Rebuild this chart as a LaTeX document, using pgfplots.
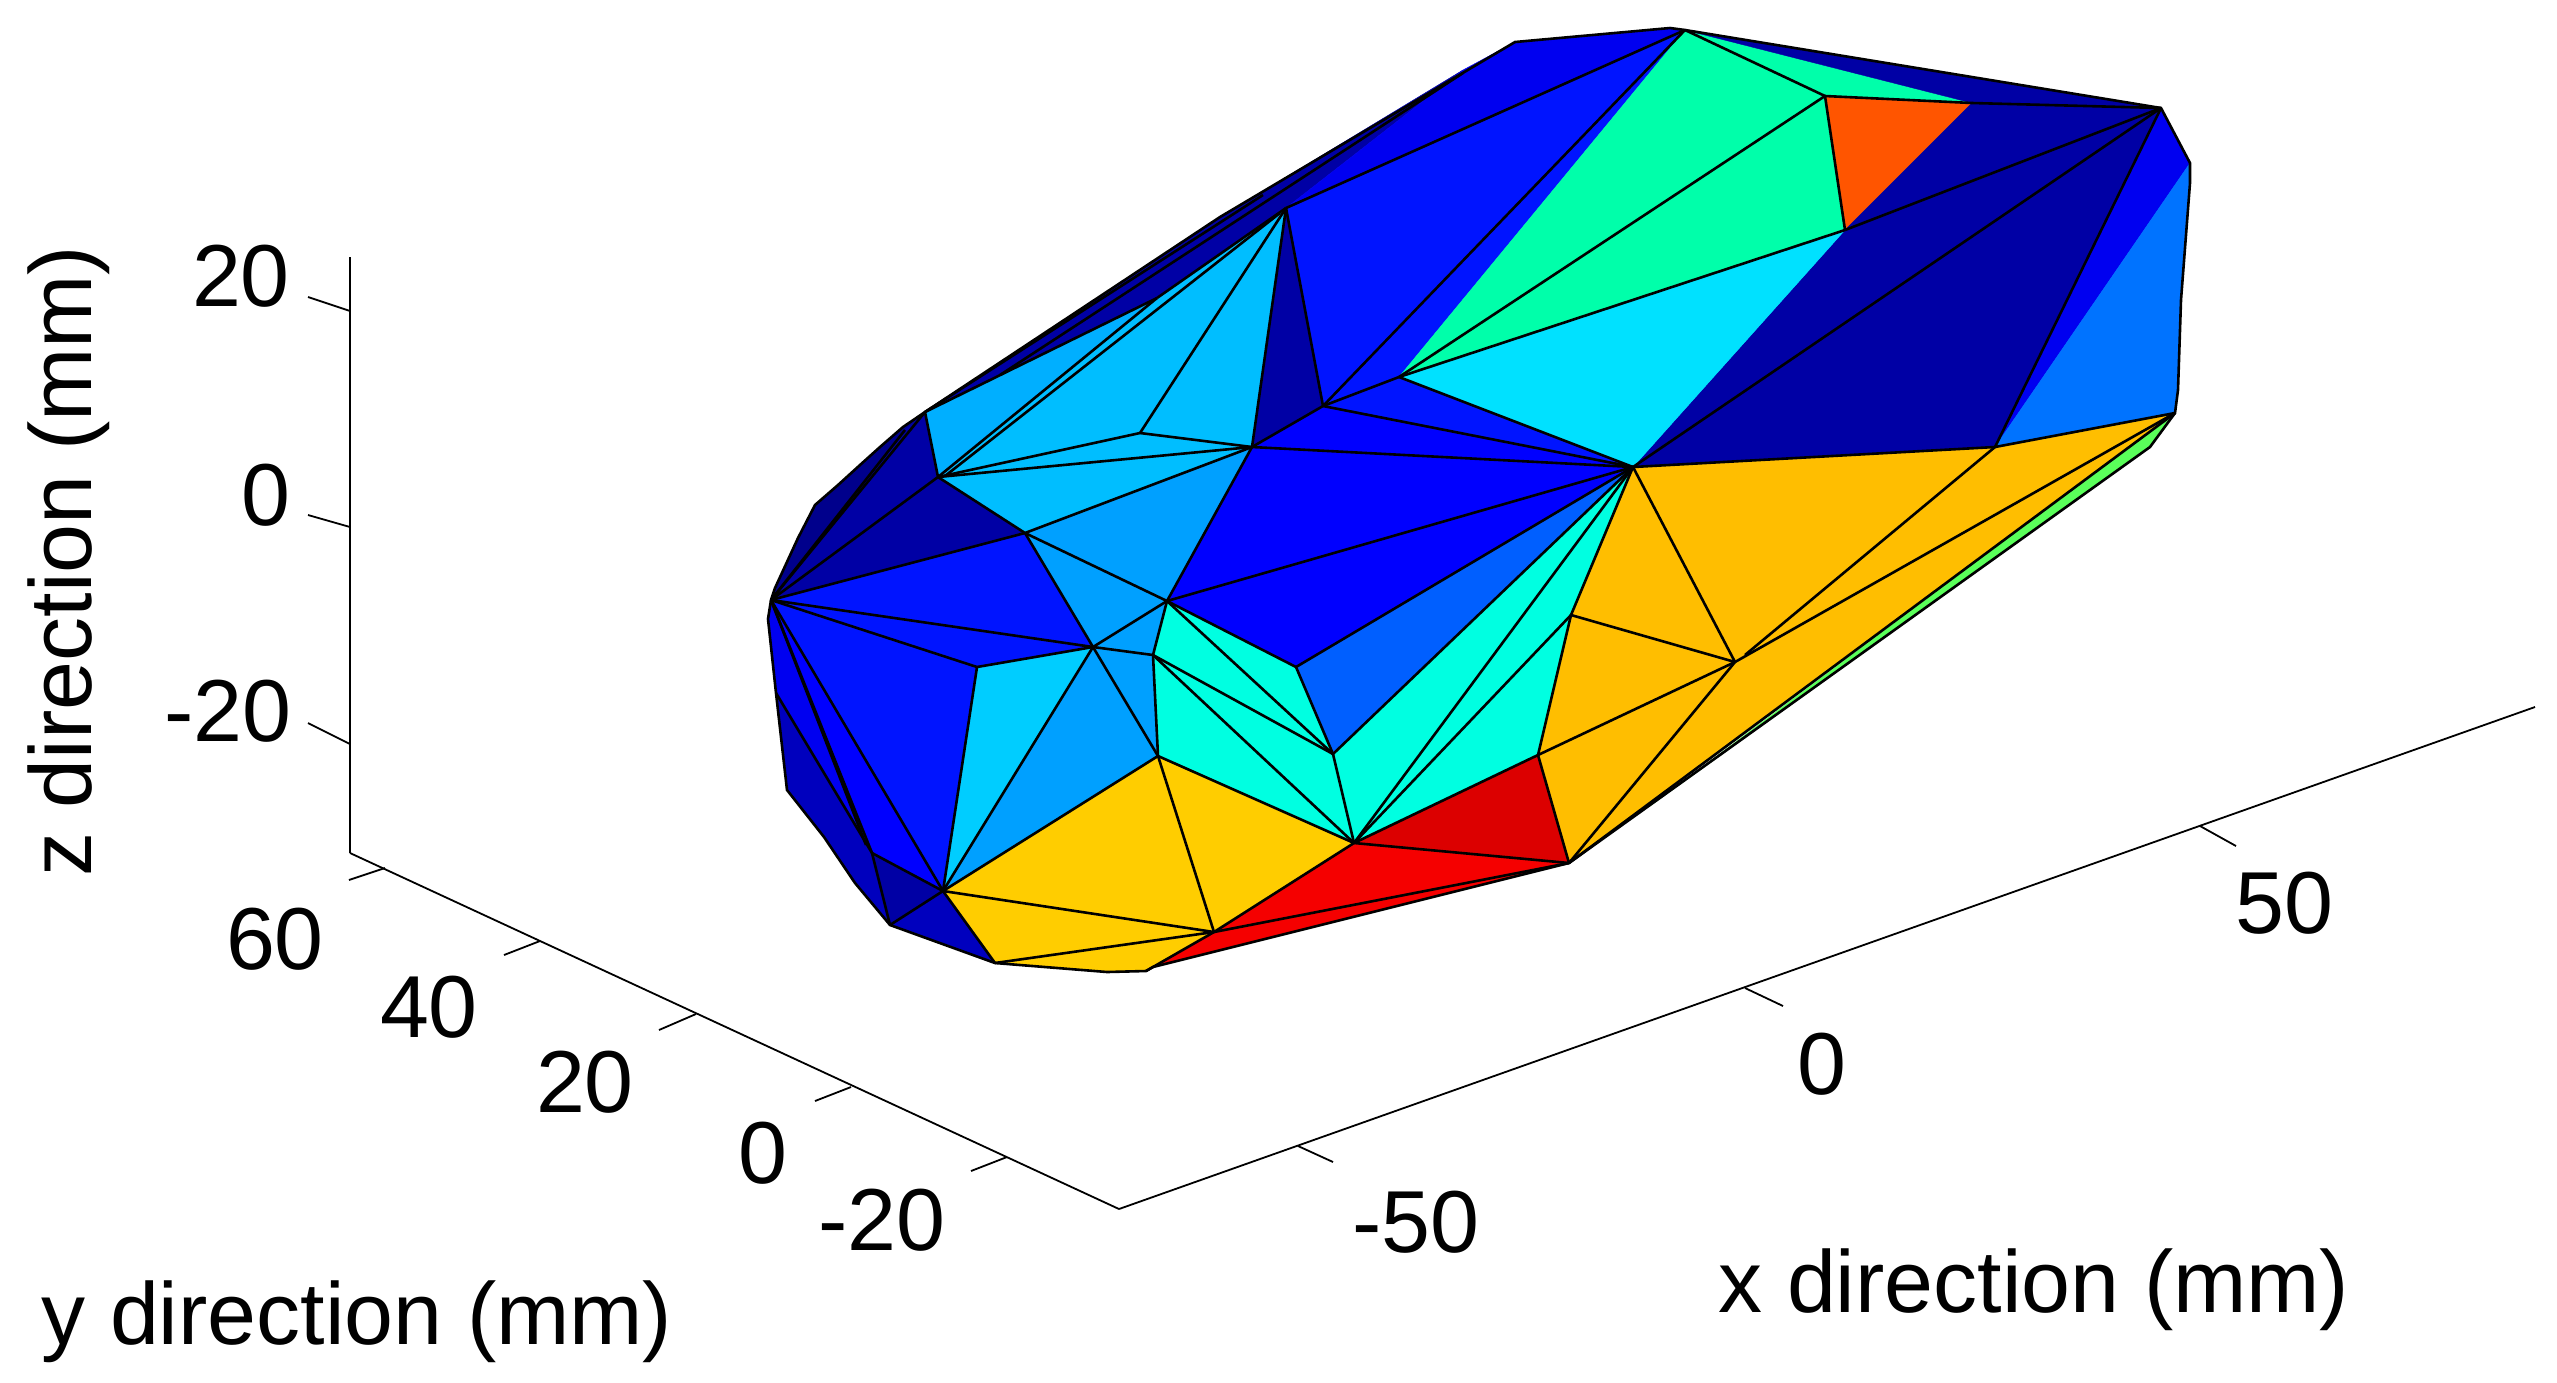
\documentclass[border=0pt]{standalone}
\usepackage{pgfplots}
\pgfplotsset{compat=1.18}
\usepackage{fontspec}
\setmainfont{Liberation Sans}
\definecolor{nA}{RGB}{0,0,140}
\definecolor{nB}{RGB}{0,0,165}
\definecolor{nC}{RGB}{0,0,190}
\definecolor{bA}{RGB}{0,0,240}
\definecolor{bB}{RGB}{0,0,255}
\definecolor{bC}{RGB}{0,20,255}
\definecolor{bD}{RGB}{0,95,255}
\definecolor{bE}{RGB}{0,115,255}
\definecolor{sA}{RGB}{0,160,255}
\definecolor{sB}{RGB}{0,175,255}
\definecolor{sC}{RGB}{0,190,255}
\definecolor{sD}{RGB}{0,205,255}
\definecolor{sE}{RGB}{0,225,255}
\definecolor{cy}{RGB}{0,255,225}
\definecolor{gr}{RGB}{0,255,170}
\definecolor{lg}{RGB}{90,255,90}
\definecolor{yl}{RGB}{255,205,0}
\definecolor{am}{RGB}{255,190,0}
\definecolor{og}{RGB}{255,85,0}
\definecolor{rd}{RGB}{245,0,0}
\definecolor{dr}{RGB}{220,0,0}
\newcommand{\poly}[2]{\addplot[fill=#1,draw=#1,line width=0.1pt] coordinates {#2} --cycle;}
\newcommand{\seg}[2]{\addplot[black,line width=0.65pt] coordinates {#1#2};}
\newcommand{\axl}[2]{\addplot[black,line width=0.45pt] coordinates {#1#2};}
\begin{document}
\begin{tikzpicture}
\useasboundingbox (0,0) rectangle (639.25pt,345.5pt);
\begin{axis}[at={(0,0)},anchor=south west,scale only axis,width=639.25pt,height=345.5pt,
  xmin=0,xmax=2557,ymin=0,ymax=1382,y dir=reverse,axis lines=none,clip=false,no markers]
% axes of the box
\axl{(350,257)}{(350,853)}
\axl{(350,853)}{(1119,1209)}
\axl{(1119,1209)}{(2535,707)}
% z ticks
\axl{(308,297)}{(350,311)}
\axl{(308,515)}{(350,527)}
\axl{(308,723)}{(350,744)}
% y ticks
\axl{(385,868)}{(349,880)}
\axl{(540,941)}{(504,955)}
\axl{(696,1014)}{(659,1030)}
\axl{(851,1087)}{(815,1101)}
\axl{(1007,1157)}{(971,1171)}
% x ticks
\axl{(1298,1146)}{(1333,1162)}
\axl{(1745,988)}{(1783,1006)}
\axl{(2200,826)}{(2236,846)}
% faces
\poly{nA}{(771,600)(775,588)(798,538)(815,505)(838,485)(860,465)(880,447)(903,427)(925,412)}
\poly{nB}{(771,600)(905,430)(925,412)(938,477)}
\poly{nB}{(771,600)(938,477)(1025,533)}
\poly{bC}{(771,600)(1025,533)(1093,647)}
\poly{bC}{(771,600)(1093,647)(977,667)}
\poly{bC}{(771,600)(977,667)(943,891)}
\poly{bA}{(771,600)(768,619)(776,693)(872,853)}
\poly{bB}{(771,600)(872,853)(943,891)}
\poly{nC}{(776,693)(787,790)(824,837)(855,883)(890,925)(872,853)}
\poly{nB}{(890,925)(872,853)(943,891)}
\poly{nC}{(890,925)(943,891)(995,963)}
\poly{sD}{(943,891)(977,667)(1093,647)}
\poly{sA}{(943,891)(1093,647)(1158,756)}
\poly{sA}{(1093,647)(1158,756)(1153,655)}
\poly{sA}{(1093,647)(1153,655)(1167,601)}
\poly{sA}{(1025,533)(1167,601)(1093,647)}
\poly{sA}{(1025,533)(1167,601)(1252,447)}
\poly{sC}{(938,477)(1025,533)(1252,447)}
\poly{sC}{(938,477)(1157,298)(1286,208)(1252,447)}
\poly{sB}{(925,412)(938,477)(1157,298)}
\poly{nB}{(925,412)(1220,217)(1463,70)(1286,208)(1157,298)}
\poly{bA}{(1286,208)(1463,70)(1515,42)(1670,28)(1685,30)}
\poly{bC}{(1286,208)(1685,30)(1323,406)}
\poly{bC}{(1323,406)(1685,30)(1399,377)}
\poly{nB}{(1252,447)(1286,208)(1323,406)}
\poly{bC}{(1323,406)(1399,377)(1633,467)}
\poly{bB}{(1252,447)(1323,406)(1633,467)}
\poly{bB}{(1252,447)(1633,467)(1167,601)}
\poly{bB}{(1167,601)(1633,467)(1296,667)}
\poly{bD}{(1296,667)(1633,467)(1333,754)}
\poly{cy}{(1167,601)(1296,667)(1333,754)(1354,843)(1158,756)(1153,655)}
\poly{cy}{(1333,754)(1633,467)(1571,615)(1538,755)(1354,843)}
\poly{am}{(1633,467)(1995,447)(2175,413)(1569,863)(1538,755)(1571,615)}
\poly{lg}{(2175,413)(2150,447)(1650,806)}
\poly{yl}{(1158,756)(1354,843)(1214,932)}
\poly{yl}{(1158,756)(1214,932)(943,891)}
\poly{yl}{(943,891)(1214,932)(1146,971)(1107,972)(995,963)}
\poly{dr}{(1354,843)(1538,755)(1569,863)}
\poly{rd}{(1354,843)(1569,863)(1153,967)(1214,932)}
\poly{og}{(1825,96)(1972,103)(1845,230)}
\poly{gr}{(1685,30)(1825,96)(1845,230)(1399,377)}
\poly{gr}{(1685,30)(1972,103)(1825,96)}
\poly{nB}{(1685,30)(2161,108)(1972,103)}
\poly{nB}{(1972,103)(2161,108)(1995,447)(1633,467)(1845,230)}
\poly{sE}{(1399,377)(1845,230)(1633,467)}
\poly{bA}{(1995,447)(2161,108)(2190,163)}
\poly{bE}{(1995,447)(2190,163)(2190,183)(2181,300)(2178,390)(2175,413)}
% edges
\seg{(771,600)}{(938,477)}
\seg{(771,600)}{(1025,533)}
\seg{(771,600)}{(1093,647)}
\seg{(771,600)}{(977,667)}
\seg{(771,600)}{(943,891)}
\seg{(771,600)}{(872,853)}
\seg{(771,600)}{(866,845)}
\seg{(776,693)}{(872,853)}
\seg{(771,600)}{(905,430)}
\seg{(771,600)}{(925,412)}
\seg{(977,667)}{(1093,647)}
\seg{(977,667)}{(943,891)}
\seg{(1093,647)}{(943,891)}
\seg{(1093,647)}{(1158,756)}
\seg{(1093,647)}{(1025,533)}
\seg{(1093,647)}{(1153,655)}
\seg{(1093,647)}{(1167,601)}
\seg{(1167,601)}{(1153,655)}
\seg{(1153,655)}{(1158,756)}
\seg{(1158,756)}{(943,891)}
\seg{(1158,756)}{(1214,932)}
\seg{(1158,756)}{(1354,843)}
\seg{(943,891)}{(1214,932)}
\seg{(1214,932)}{(1354,843)}
\seg{(943,891)}{(872,853)}
\seg{(872,853)}{(890,925)}
\seg{(890,925)}{(943,891)}
\seg{(943,891)}{(995,963)}
\seg{(995,963)}{(1214,932)}
\seg{(1214,932)}{(1146,971)}
\seg{(925,412)}{(938,477)}
\seg{(938,477)}{(1025,533)}
\seg{(1025,533)}{(1167,601)}
\seg{(1167,601)}{(1252,447)}
\seg{(1252,447)}{(1025,533)}
\seg{(938,477)}{(1252,447)}
\seg{(938,477)}{(1140,433)}
\seg{(1140,433)}{(1252,447)}
\seg{(1140,433)}{(1286,208)}
\seg{(938,477)}{(1157,298)}
\seg{(945,476)}{(1280,213)}
\seg{(925,412)}{(1157,298)}
\seg{(1157,298)}{(1286,208)}
\seg{(925,412)}{(1263,195)}
\seg{(1000,375)}{(1463,73)}
\seg{(1252,447)}{(1286,208)}
\seg{(1323,406)}{(1286,208)}
\seg{(1252,447)}{(1323,406)}
\seg{(1323,406)}{(1685,30)}
\seg{(1286,208)}{(1685,30)}
\seg{(1323,406)}{(1399,377)}
\seg{(1399,377)}{(1825,96)}
\seg{(1399,377)}{(1845,230)}
\seg{(1399,377)}{(1633,467)}
\seg{(1323,406)}{(1633,467)}
\seg{(1252,447)}{(1633,467)}
\seg{(1167,601)}{(1633,467)}
\seg{(1296,667)}{(1633,467)}
\seg{(1333,754)}{(1633,467)}
\seg{(1354,843)}{(1633,467)}
\seg{(1354,843)}{(1571,615)}
\seg{(1167,601)}{(1296,667)}
\seg{(1296,667)}{(1333,754)}
\seg{(1167,601)}{(1333,754)}
\seg{(1153,655)}{(1333,754)}
\seg{(1153,655)}{(1354,843)}
\seg{(1333,754)}{(1354,843)}
\seg{(1354,843)}{(1538,755)}
\seg{(1538,755)}{(1569,863)}
\seg{(1354,843)}{(1569,863)}
\seg{(1214,932)}{(1569,863)}
\seg{(1633,467)}{(1571,615)}
\seg{(1571,615)}{(1538,755)}
\seg{(1571,615)}{(1735,662)}
\seg{(1735,662)}{(1538,755)}
\seg{(1735,662)}{(1569,863)}
\seg{(1735,662)}{(1633,467)}
\seg{(1745,655)}{(1995,447)}
\seg{(1735,662)}{(2175,413)}
\seg{(1633,467)}{(1995,447)}
\seg{(1995,447)}{(2175,413)}
\seg{(1995,447)}{(2161,108)}
\seg{(1633,467)}{(2161,108)}
\seg{(1845,230)}{(2161,108)}
\seg{(1825,96)}{(1972,103)}
\seg{(1825,96)}{(1845,230)}
\seg{(1685,30)}{(1825,96)}
\seg{(1972,103)}{(2161,108)}
\seg{(2175,413)}{(1569,863)}
% outline
\addplot[black,line width=0.65pt] coordinates {(771,600)(775,588)(798,538)(815,505)(838,485)(860,465)(880,447)(903,427)(925,412)(1220,217)(1515,42)(1670,28)(1685,30)(2161,108)(2190,163)(2190,183)(2181,300)(2178,390)(2175,413)(2150,447)(1569,863)(1153,967)(1146,971)(1107,972)(995,963)(890,925)(855,883)(824,837)(787,790)(776,693)(768,619)(771,600)};
% text
\node[font=\fontsize{22}{26}\selectfont,rotate=90] at (axis cs:69,561) {z direction (mm)};
\node[font=\fontsize{22}{26}\selectfont] at (axis cs:357,1322) {y direction (mm)};
\node[font=\fontsize{22}{26}\selectfont] at (axis cs:2034,1290) {x direction (mm)};
\node[font=\fontsize{22}{26}\selectfont] at (axis cs:241,276) {20};
\node[font=\fontsize{22}{26}\selectfont] at (axis cs:266,495) {0};
\node[font=\fontsize{22}{26}\selectfont] at (axis cs:228,711) {-20};
\node[font=\fontsize{22}{26}\selectfont] at (axis cs:275,939) {60};
\node[font=\fontsize{22}{26}\selectfont] at (axis cs:429,1007) {40};
\node[font=\fontsize{22}{26}\selectfont] at (axis cs:585,1082) {20};
\node[font=\fontsize{22}{26}\selectfont] at (axis cs:763,1153) {0};
\node[font=\fontsize{22}{26}\selectfont] at (axis cs:882,1220) {-20};
\node[font=\fontsize{22}{26}\selectfont] at (axis cs:1416,1222) {-50};
\node[font=\fontsize{22}{26}\selectfont] at (axis cs:1822,1064) {0};
\node[font=\fontsize{22}{26}\selectfont] at (axis cs:2284,903) {50};
\end{axis}
\end{tikzpicture}
\end{document}
